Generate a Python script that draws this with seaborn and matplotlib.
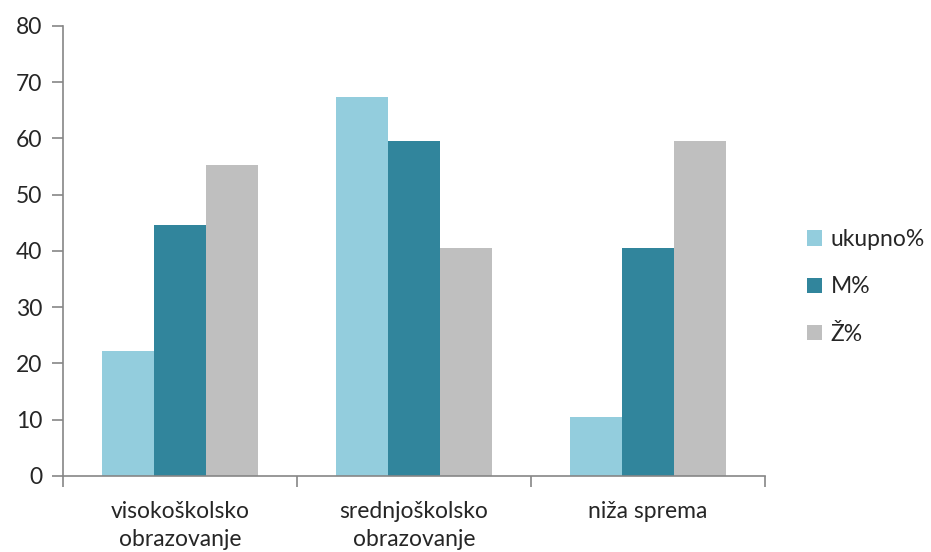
import pandas as pd
import seaborn as sns
import matplotlib.pyplot as plt

categories = ['visokoškolsko\nobrazovanje', 'srednjoškolsko\nobrazovanje', 'niža sprema']
series = ['ukupno%', 'M%', 'Ž%']
ukupno = [22.2, 67.4, 10.4]
m_pct = [44.6, 59.5, 40.5]
z_pct = [55.3, 40.5, 59.5]
colors = ['#93CDDD', '#31859C', '#BFBFBF']

rows = []
for name, vals in zip(series, [ukupno, m_pct, z_pct]):
    for c, v in zip(categories, vals):
        rows.append({'kat': c, 'serija': name, 'vrijednost': v})
df = pd.DataFrame(rows)

sns.set_style('white')
plt.rcParams['font.family'] = ['Lato', 'DejaVu Sans']

fig = plt.figure(figsize=(9.31, 5.52), dpi=100)
ax = fig.add_axes([0.0677, 0.1377, 0.754, 0.8152])

sns.barplot(data=df, x='kat', y='vrijednost', hue='serija', order=categories,
            hue_order=series, palette=colors, width=0.67, saturation=1,
            linewidth=0, ax=ax)

ax.set_xlim(-0.5, 2.5)
ax.set_ylim(0, 80)
ax.set_yticks(range(0, 81, 10))
ax.set_xlabel('')
ax.set_ylabel('')

# ticks at category boundaries
ax.set_xticks([-0.5, 0.5, 1.5, 2.5])
ax.set_xticklabels([])
ax.set_xticks([0, 1, 2], minor=True)
ax.set_xticklabels(categories, minor=True, fontsize=16.5, linespacing=1.4)
ax.tick_params(axis='x', which='minor', length=0, pad=18)
ax.tick_params(axis='x', which='major', length=8, width=1.2, color='#868686', direction='out')
ax.tick_params(axis='y', length=8, width=1.2, color='#868686', direction='out', labelsize=16.5, pad=7)
ax.xaxis.set_ticks_position('bottom')
ax.yaxis.set_ticks_position('left')

for s in ['top', 'right']:
    ax.spines[s].set_visible(False)
for s in ['left', 'bottom']:
    ax.spines[s].set_color('#868686')
    ax.spines[s].set_linewidth(1.2)

leg = ax.legend(loc='center left', bbox_to_anchor=(1.03, 0.42), frameon=False,
                fontsize=16.5, handlelength=0.65, handleheight=0.65, handletextpad=0.4,
                labelspacing=1.15)

fig.savefig('out.png', dpi=100)
